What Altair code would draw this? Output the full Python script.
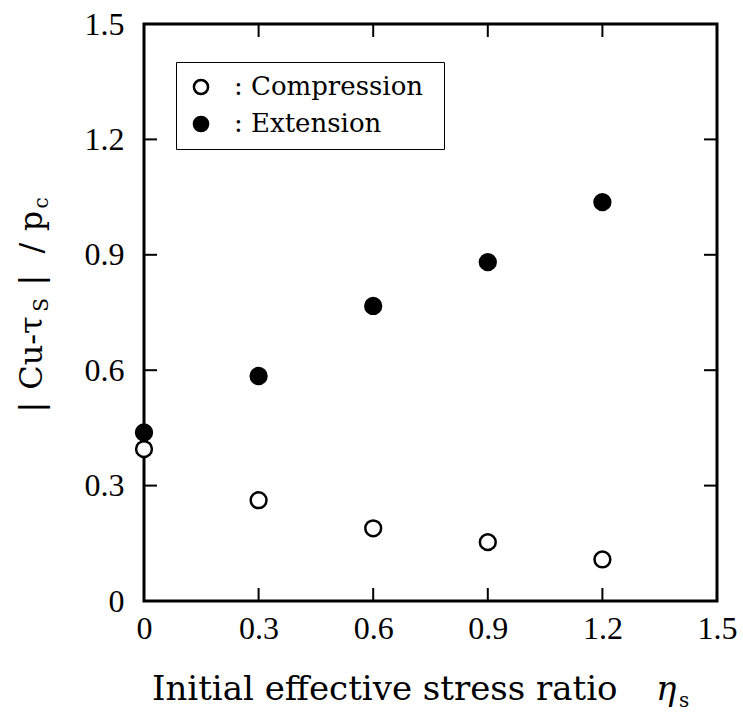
import altair as alt
import pandas as pd

# ---- data ----
eta = [0.0, 0.3, 0.6, 0.9, 1.2]
compression = [0.395, 0.262, 0.189, 0.153, 0.108]
extension = [0.438, 0.585, 0.767, 0.881, 1.037]
series_names = ["Compression", "Extension"]
axis_values = [0, 0.3, 0.6, 0.9, 1.2, 1.5]
inner_ticks = [0.3, 0.6, 0.9, 1.2]

W, H = 573, 577

rows = []
for x, v in zip(eta, extension):
    rows.append({"eta": x, "val": v, "series": "Extension"})
for x, v in zip(eta, compression):
    rows.append({"eta": x, "val": v, "series": "Compression"})
df = pd.DataFrame(rows)
ticks_df = pd.DataFrame({"t": inner_ticks})

label_expr = "datum.value == 0 ? '0' : format(datum.value, '.1f')"
xscale = alt.Scale(domain=[0, 1.5], nice=False, zero=False)
yscale = alt.Scale(domain=[0, 1.5], nice=False, zero=False)

points = alt.Chart(df).mark_point(
    shape="circle", filled=True, size=250, strokeWidth=2.5,
    stroke="black", opacity=1, clip=False
).encode(
    x=alt.X("eta:Q", scale=xscale, axis=alt.Axis(
        values=axis_values, labelExpr=label_expr, title=None, ticks=False,
        domain=False, grid=False, labelFont="Liberation Serif", labelFontSize=32,
        labelColor="black", labelPadding=12, labelFlush=False, labelOverlap=False)),
    y=alt.Y("val:Q", scale=yscale, axis=alt.Axis(
        values=axis_values, labelExpr=label_expr, title=None, ticks=False,
        domain=False, grid=False, labelFont="Liberation Serif", labelFontSize=32,
        labelColor="black", labelPadding=20, labelFlush=False, labelOverlap=False)),
    fill=alt.Fill("series:N", scale=alt.Scale(domain=series_names, range=["white", "black"]),
                  legend=alt.Legend(
                      title=None, orient="none", legendX=32, legendY=38,
                      labelExpr="':  ' + datum.label", labelLimit=0,
                      labelFont="DejaVu Serif", labelFontSize=26, labelColor="black",
                      labelOffset=20, symbolType="circle", symbolSize=200,
                      symbolStrokeColor="black", symbolStrokeWidth=2.5, symbolOpacity=1,
                      strokeColor="black", padding=12, rowPadding=11,
                      fillColor="white")),
)

tick_style = dict(color="black", strokeWidth=2)
bottom_ticks = alt.Chart(ticks_df).mark_rule(**tick_style).encode(
    x=alt.X("t:Q", scale=xscale), y=alt.value(H), y2=alt.value(H - 13))
top_ticks = alt.Chart(ticks_df).mark_rule(**tick_style).encode(
    x=alt.X("t:Q", scale=xscale), y=alt.value(0), y2=alt.value(13))
left_ticks = alt.Chart(ticks_df).mark_rule(**tick_style).encode(
    y=alt.Y("t:Q", scale=yscale), x=alt.value(0), x2=alt.value(13))
right_ticks = alt.Chart(ticks_df).mark_rule(**tick_style).encode(
    y=alt.Y("t:Q", scale=yscale), x=alt.value(W), x2=alt.value(W - 13))


def txt(s, x, y, size, angle=0, align="left", baseline="alphabetic", style="normal", font="DejaVu Serif"):
    return alt.Chart(pd.DataFrame({"s": [s]})).mark_text(
        align=align, baseline=baseline, angle=angle, font=font, fontSize=size,
        fontStyle=style, color="black"
    ).encode(x=alt.value(x), y=alt.value(y), text="s:N")

# x title
xt_main = txt("Initial effective stress ratio", 8, 676, 34)
xt_eta = txt("η", 512, 676, 34, style="italic")
xt_sub = txt("s", 535, 683, 20)

# y title (rotated)
yb = -102
yt = [
    txt("|", yb, 383, 32, angle=270, align="center"),
    txt("Cu-τ", yb, 329, 32, angle=270, align="center"),
    txt("S", yb + 6, 281, 20, angle=270, align="center"),
    txt("|", yb, 256, 32, angle=270, align="center"),
    txt("/", yb, 224, 32, angle=270, align="center"),
    txt("p", yb, 197, 32, angle=270, align="center"),
    txt("c", yb + 6, 179, 20, angle=270, align="center"),
]

chart = alt.layer(
    bottom_ticks, top_ticks, left_ticks, right_ticks, points,
    xt_main, xt_eta, xt_sub, *yt
).properties(
    width=W, height=H,
    autosize=alt.AutoSizeParams(type="none"),
    padding={"left": 144, "top": 24, "right": 26, "bottom": 121},
    background="white",
).configure_view(stroke="black", strokeWidth=3)

chart.save("out.html", embed_options={"renderer": "svg", "actions": False})
